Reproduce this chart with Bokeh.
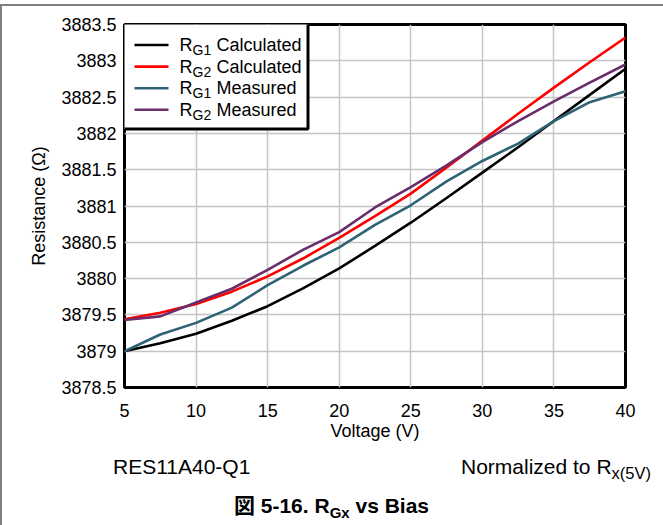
from bokeh.plotting import figure
from bokeh.layouts import column
from bokeh.models import FixedTicker, Label, Div
from bokeh.embed import file_html
from bokeh.resources import INLINE

# ---------------- data ----------------
voltage = [5, 7.5, 10, 12.5, 15, 17.5, 20, 22.5, 25, 27.5, 30, 32.5, 35, 37.5, 40]
rg1_calculated = [3879.00, 3879.11, 3879.24, 3879.42, 3879.62, 3879.87, 3880.14, 3880.45,
                  3880.77, 3881.11, 3881.46, 3881.81, 3882.17, 3882.53, 3882.89]
rg2_calculated = [3879.44, 3879.53, 3879.65, 3879.82, 3880.03, 3880.28, 3880.56, 3880.86,
                  3881.17, 3881.53, 3881.90, 3882.27, 3882.63, 3882.98, 3883.32]
rg1_measured = [3879.00, 3879.23, 3879.39, 3879.60, 3879.91, 3880.18, 3880.43, 3880.74,
                3881.01, 3881.34, 3881.62, 3881.86, 3882.17, 3882.43, 3882.58]
rg2_measured = [3879.43, 3879.48, 3879.67, 3879.86, 3880.12, 3880.40, 3880.64, 3880.98,
                3881.26, 3881.56, 3881.88, 3882.17, 3882.44, 3882.70, 3882.95]

series_subscripts = ["G1", "G2", "G1", "G2"]
series_words = ["Calculated", "Calculated", "Measured", "Measured"]
series_colors = ["#000000", "#ff0000", "#2f6275", "#6a2d6b"]

x_ticks = [5, 10, 15, 20, 25, 30, 35, 40]
y_ticks = [3878.5, 3879.0, 3879.5, 3880.0, 3880.5, 3881.0, 3881.5, 3882.0,
           3882.5, 3883.0, 3883.5]
y_tick_labels = ["3878.5", "3879", "3879.5", "3880", "3880.5", "3881", "3881.5", "3882",
                 "3882.5", "3883", "3883.5"]

x_title = "Voltage (V)"
y_title = "Resistance (Ω)"
device_note = "RES11A40-Q1"
norm_note = "Normalized to R"
norm_sub = "x(5V)"
fig_title_a = "図 5-16. R"
fig_title_sub = "Gx"
fig_title_b = " vs Bias"

# ---------------- layout ----------------
FONT = "Liberation Sans"
W = 663
H_TOP = 6
H_MAIN = 441
H_CAP = 78
BL, BR, BT, BB = 124, 38, 18, 60
FW = W - BL - BR
FH = H_MAIN - BT - BB
X0, X1 = 5, 40
Y0, Y1 = 3878.5, 3883.5

p = figure(width=W, height=H_MAIN, output_backend="svg", toolbar_location=None,
           x_range=(X0, X1), y_range=(Y0, Y1),
           min_border_left=BL, min_border_right=BR, min_border_top=BT,
           min_border_bottom=BB)
p.background_fill_color = "white"
p.border_fill_color = "white"
p.outline_line_color = "black"
p.outline_line_width = 3

p.xaxis.ticker = FixedTicker(ticks=x_ticks)
p.yaxis.ticker = FixedTicker(ticks=y_ticks)
p.yaxis.major_label_overrides = {t: l for t, l in zip(y_ticks, y_tick_labels)}
p.xaxis.axis_label = x_title
p.yaxis.axis_label = y_title
for ax in (p.xaxis[0], p.yaxis[0]):
    ax.axis_line_color = None
    ax.major_tick_line_color = None
    ax.minor_tick_line_color = None
    ax.major_tick_out = 0
    ax.major_tick_in = 0
    ax.major_label_text_font = FONT
    ax.major_label_text_font_size = "18px"
    ax.major_label_text_color = "black"
    ax.axis_label_text_font = FONT
    ax.axis_label_text_font_size = "18px"
    ax.axis_label_text_font_style = "normal"
    ax.axis_label_text_color = "black"
p.xaxis.major_label_standoff = 16
p.xaxis.axis_label_standoff = 1
p.yaxis.major_label_standoff = 8
p.yaxis.axis_label_standoff = 9

p.xgrid.ticker = FixedTicker(ticks=x_ticks)
p.ygrid.ticker = FixedTicker(ticks=y_ticks)
p.grid.grid_line_color = "#c4c4c4"
p.grid.grid_line_width = 1.5

series = [rg1_calculated, rg2_calculated, rg1_measured, rg2_measured]
for ys, c in zip(series, series_colors):
    p.line(voltage, ys, line_color=c, line_width=2.6)


# ---------------- legend (drawn by hand so that the labels can carry subscripts) ----
def px_to_x(px):  # pixel offset from frame left -> data x
    return X0 + px * (X1 - X0) / FW


def px_to_y(py):  # pixel offset from frame top -> data y
    return Y1 - py * (Y1 - Y0) / FH


LEG_W, LEG_H = 183.5, 104.5          # box size (px)
ROW0, ROW_STEP = 20.5, 21.6          # first row centre and row pitch (px)
SAMPLE_X0, SAMPLE_X1 = 10, 44        # line sample extent (px)
TEXT_X, SUB_DX, WORD_DX = 55, 13, 37  # text positions (px)

p.quad(left=px_to_x(-2), right=px_to_x(LEG_W), top=px_to_y(-2), bottom=px_to_y(LEG_H),
       fill_color="white", line_color="black", line_width=3)
rows = [ROW0 + i * ROW_STEP for i in range(len(series_colors))]
p.segment(x0=[px_to_x(SAMPLE_X0)] * len(rows), x1=[px_to_x(SAMPLE_X1)] * len(rows),
          y0=[px_to_y(r) for r in rows], y1=[px_to_y(r) for r in rows],
          line_color=series_colors, line_width=2.6)


def add_text(txt, x, y, size):
    p.add_layout(Label(x=x, y=y, text=txt,
                       text_font=FONT, text_font_size=size,
                       text_align="left", text_baseline="middle", text_color="black"))


for r, sub, word in zip(rows, series_subscripts, series_words):
    add_text("R", px_to_x(TEXT_X), px_to_y(r), "18px")
    add_text(sub, px_to_x(TEXT_X + SUB_DX), px_to_y(r + 5), "14px")
    add_text(word, px_to_x(TEXT_X + WORD_DX), px_to_y(r), "18px")

# ---------------- page rule above the chart ----------------
top_rule = Div(width=W, height=H_TOP, margin=0,
               text=f'<div style="position:absolute;left:0;top:4px;width:{W}px;height:2px;'
                    'background:#7f7f7f"></div>'
                    '<div style="position:absolute;left:0;top:4px;width:2px;height:2px;'
                    'background:#7f7f7f"></div>')

# ---------------- caption below the chart ----------------
cap_html = (
    f'<div style="position:relative;width:{W}px;height:{H_CAP}px;'
    f'font-family:\'{FONT}\',\'Noto Sans CJK JP\',sans-serif;color:#000;">'
    f'<div style="position:absolute;left:0;top:-{H_MAIN}px;width:2px;'
    f'height:{H_MAIN + H_CAP}px;background:#7f7f7f"></div>'
    f'<span style="position:absolute;left:113px;top:9px;font-size:21px;line-height:21px;'
    f'white-space:nowrap">{device_note}</span>'
    f'<span style="position:absolute;left:461px;top:9px;font-size:21px;line-height:21px;'
    f'white-space:nowrap">{norm_note}<span style="font-size:16.5px;position:relative;'
    f'top:5px">{norm_sub}</span></span>'
    f'<div style="position:absolute;left:0;top:48px;width:{W}px;text-align:center;'
    f'font-size:21px;line-height:21px;font-weight:bold;white-space:nowrap">'
    f'{fig_title_a}<span style="font-size:15px;position:relative;top:5px">{fig_title_sub}'
    f'</span>{fig_title_b}</div>'
    '</div>'
)
caption = Div(width=W, height=H_CAP, margin=0, text=cap_html)

layout = column(top_rule, p, caption, spacing=0)
open("out.html", "w").write(file_html(layout, INLINE))
